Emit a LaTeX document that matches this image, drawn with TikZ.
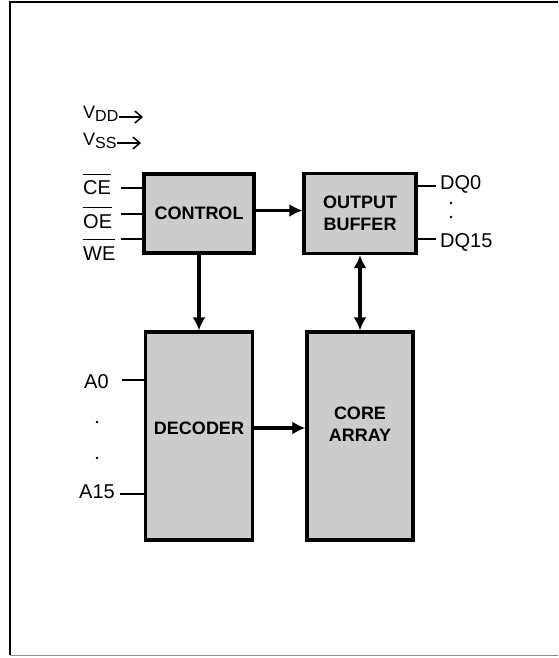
\documentclass[tikz,border=0pt]{standalone}
\usepackage{fontspec}
\setmainfont{Liberation Sans}
\usetikzlibrary{shapes,arrows,arrows.meta,positioning}
\tikzstyle{block} = [draw, line width=3.2pt, fill=black!20, rectangle, align=center, inner sep=0pt, font=\fontsize{18}{22}\selectfont\bfseries]
\tikzstyle{pinlabel} = [inner sep=0pt, anchor=base west, font=\fontsize{20}{20}\selectfont]
\tikzstyle{pwrlabel} = [inner sep=0pt, anchor=base west, font=\fontsize{18}{18}\selectfont]
\tikzstyle{sigline} = [line width=1.6pt]
\tikzstyle{bus} = [line width=3.4pt]
\tikzstyle{supply} = [line width=1.5pt, -{Straight Barb[length=7pt,width=12pt]}]
\tikzstyle{dotmark} = [fill=black, circle, inner sep=0pt, minimum size=2.6pt]
\newcommand{\negsig}[1]{$\overline{\rule{0pt}{0.95em}\mbox{#1}}$}
\newcommand{\pwrsub}[1]{\raisebox{-0.22em}{\fontsize{16}{16}\selectfont #1}}

\begin{document}
\begin{tikzpicture}[x=1pt, y=-1pt, node distance=161pt, >={Latex[length=13pt,width=13pt]}]
 \useasboundingbox (0,0) rectangle (558,658);
 % frame
    \draw [line width=2.4pt] (558,2) -- (10,2) -- (10,655);
    \draw [line width=1pt, black!45] (10,655) -- (558,655);
 % blocks
    \node [block, minimum width=110pt, minimum height=79pt, name=control] at (199,213.5) {CONTROL};
    \node [block, right of=control, minimum width=112pt, minimum height=80pt, name=outbuf] {OUTPUT\\BUFFER};
    \node [block, node distance=222.5pt, below of=control, minimum width=107pt, minimum height=208pt, text depth=16pt, name=decoder] {DECODER};
    \node [block, right of=decoder, minimum width=106pt, minimum height=208pt, text depth=24pt, name=core] {CORE\\ARRAY};
 % supply pins
    \node [pwrlabel, name=vdd] at (83,118) {V\pwrsub{DD}};
    \node [pwrlabel, name=vss] at (83,145) {V\pwrsub{SS}};
    \coordinate (vddtip) at (143,117);
    \coordinate (vsstip) at (141,143);
 % control pins
    \node [pinlabel, name=ce] at (83,194.5) {\negsig{CE}};
    \node [pinlabel, name=oe] at (83,228) {\negsig{OE}};
    \node [pinlabel, name=we] at (83,260) {\negsig{WE}};
    \coordinate (cein) at (121,188);
    \coordinate (oein) at (121,214);
    \coordinate (wein) at (121,239);
 % address pins
    \node [pinlabel, name=a0] at (84,388) {A0};
    \node [pinlabel, name=a15] at (79,498) {A15};
    \node [dotmark, name=adot1] at (97,422) {};
    \node [dotmark, name=adot2] at (97,458) {};
    \coordinate (a0in) at (122,380);
    \coordinate (a15in) at (120,494);
 % data pins
    \node [pinlabel, name=dq0] at (440,189) {DQ0};
    \node [pinlabel, name=dq15] at (440,247) {DQ15};
    \node [dotmark, name=dqdot1] at (451,203) {};
    \node [dotmark, name=dqdot2] at (451,217) {};
    \coordinate (dq0out) at (436,186);
    \coordinate (dq15out) at (436,239);
 % edges
    \draw [supply] (vddtip -| vdd.east) -- (vddtip);
    \draw [supply] (vsstip -| vss.east) -- (vsstip);
    \draw [sigline] (cein) -- (cein -| control.west);
    \draw [sigline] (oein) -- (oein -| control.west);
    \draw [sigline] (wein) -- (wein -| control.west);
    \draw [sigline] (a0in) -- (a0in -| decoder.west);
    \draw [sigline] (a15in) -- (a15in -| decoder.west);
    \draw [sigline] (dq0out -| outbuf.east) -- (dq0out);
    \draw [sigline] (dq15out -| outbuf.east) -- (dq15out);
    \draw [bus, ->] ([yshift=3pt]control.east) -- ([yshift=3pt]outbuf.west);
    \draw [bus, ->] (control.south) -- (decoder.north);
    \draw [bus, ->] ([yshift=8pt]decoder.east) -- ([yshift=8pt]core.west);
    \draw [bus, <->] (outbuf.south) -- (core.north);
\end{tikzpicture}
\end{document}
